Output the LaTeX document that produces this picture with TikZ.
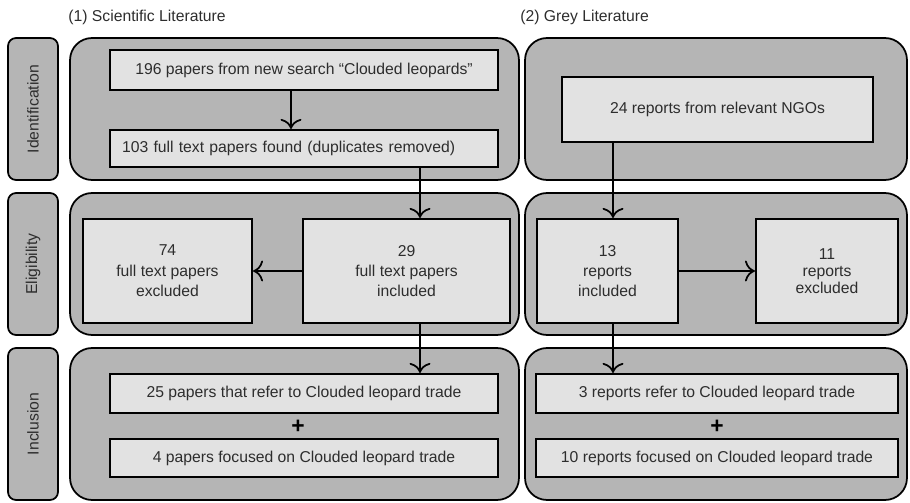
\documentclass[tikz,border=0pt]{standalone}
\usepackage{fontspec}
\setmainfont{Liberation Sans}
\usepackage{xcolor}
\usetikzlibrary{arrows.meta}
\definecolor{panelgray}{RGB}{181,181,181}
\definecolor{boxgray}{RGB}{226,226,226}
\definecolor{inkgray}{RGB}{45,45,45}

\begin{document}
\begin{tikzpicture}[x=0.02cm, y=-0.02cm, >={To[scale=1.5]},
    every node/.style={font=\fontsize{8.95}{11.6}\selectfont, text=inkgray},
    stage/.style={draw, line width=1pt, fill=panelgray, rounded corners=0.16cm, rotate=90, minimum height=1cm},
    panel/.style={draw, line width=1pt, fill=panelgray, rounded corners=0.44cm},
    box/.style={draw, line width=1.2pt, fill=boxgray, align=center},
    plus/.style={font=\bfseries\fontsize{13}{13}\selectfont, text=black},
    arr/.style={->, line width=1pt}]
    \useasboundingbox (0,0) rectangle (910,503);

    % headings
    \node[anchor=west, inner sep=0pt] (sciHead) at (68,17) {(1) Scientific Literature};
    \node[anchor=west, inner sep=0pt] (greyHead) at (520,17) {(2) Grey Literature};

    % stages
    \node[stage, minimum width=2.84cm] (ident) at (33,109) {Identification};
    \node[stage, minimum width=2.84cm] (elig) at (33,264) {Eligibility};
    \node[stage, minimum width=3.04cm] (incl) at (33,424) {Inclusion};

    % panels
    \node[panel, minimum width=8.98cm, minimum height=2.84cm] (sciIdent) at (294.5,109) {};
    \node[panel, minimum width=7.64cm, minimum height=2.84cm] (greyIdent) at (716,109) {};
    \node[panel, minimum width=8.98cm, minimum height=2.84cm] (sciElig) at (294.5,264) {};
    \node[panel, minimum width=7.64cm, minimum height=2.84cm] (greyElig) at (716,264) {};
    \node[panel, minimum width=8.98cm, minimum height=3.04cm] (sciIncl) at (294.5,424) {};
    \node[panel, minimum width=7.64cm, minimum height=3.04cm] (greyIncl) at (716,424) {};

    % scientific literature
    \node[box, minimum width=7.76cm, minimum height=0.8cm] (sciSearch) at (304,70) {196 papers from new search “Clouded leopards”};
    \node[box, text width=7.28cm, inner xsep=0.24cm, align=left, minimum height=0.74cm] (sciFound) at (304,148.5) {103 full text papers found (duplicates removed)};
    \node[box, minimum width=3.38cm, minimum height=2.08cm] (sciOut) at (167.5,271) {74\\full text papers\\excluded};
    \node[box, minimum width=4.14cm, minimum height=2.08cm] (sciIn) at (406.5,271) {29\\full text papers\\included};
    \node[box, minimum width=7.76cm, minimum height=0.78cm] (sciRefer) at (304,393.5) {25 papers that refer to Clouded leopard trade};
    \node[plus] (sciPlus) at (298,427) {+};
    \node[box, minimum width=7.76cm, minimum height=0.76cm] (sciFocus) at (304,458) {4 papers focused on Clouded leopard trade};

    % grey literature
    \node[box, minimum width=6.22cm, minimum height=1.3cm] (greyNgo) at (717.5,109.5) {24 reports from relevant NGOs};
    \node[box, minimum width=2.82cm, minimum height=2.08cm] (greyIn) at (607.5,271) {13\\reports\\included};
    \node[box, minimum width=2.84cm, minimum height=2.08cm, font=\fontsize{8.95}{9.6}\selectfont] (greyOut) at (827,271) {11\\reports\\excluded};
    \node[box, minimum width=7.24cm, minimum height=0.78cm] (greyRefer) at (717,393.5) {3 reports refer to Clouded leopard trade};
    \node[plus] (greyPlus) at (717,427) {+};
    \node[box, minimum width=7.24cm, minimum height=0.76cm] (greyFocus) at (717,458) {10 reports focused on Clouded leopard trade};

    % arrows
    \coordinate (topDown) at (291,0);
    \coordinate (sciDown) at (420,0);
    \coordinate (greyDown) at (613,0);
    \draw[arr] (sciSearch.south -| topDown) -- (sciFound.north -| topDown);
    \draw[arr] (sciFound.south -| sciDown) -- (sciIn.north -| sciDown);
    \draw[arr] (sciIn.west) -- (sciOut.east);
    \draw[arr] (sciIn.south -| sciDown) -- (sciRefer.north -| sciDown);
    \draw[arr] (greyNgo.south -| greyDown) -- (greyIn.north -| greyDown);
    \draw[arr] (greyIn.east) -- (greyOut.west);
    \draw[arr] (greyIn.south -| greyDown) -- (greyRefer.north -| greyDown);
\end{tikzpicture}
\end{document}
